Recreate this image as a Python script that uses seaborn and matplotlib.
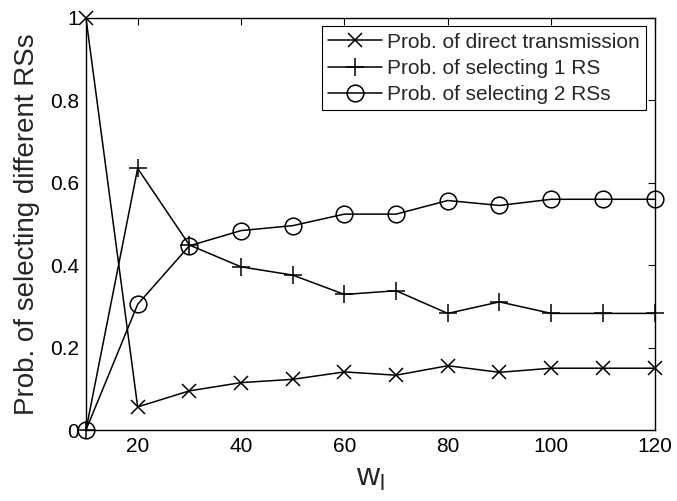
import matplotlib
matplotlib.use("Agg")
import matplotlib.pyplot as plt
import seaborn as sns
import pandas as pd

# Data
w_l = [10, 20, 30, 40, 50, 60, 70, 80, 90, 100, 110, 120]
p_direct = [1.0, 0.056, 0.095, 0.115, 0.123, 0.141, 0.133, 0.156, 0.140, 0.150, 0.150, 0.150]
p_one_rs = [0.0, 0.635, 0.449, 0.396, 0.376, 0.329, 0.338, 0.283, 0.311, 0.283, 0.283, 0.283]
p_two_rs = [0.0, 0.305, 0.447, 0.484, 0.496, 0.524, 0.524, 0.557, 0.545, 0.560, 0.560, 0.560]
series_names = ["Prob. of direct transmission", "Prob. of selecting 1 RS", "Prob. of selecting 2 RSs"]
x_ticks = [20, 40, 60, 80, 100, 120]
y_ticks = [0, 0.2, 0.4, 0.6, 0.8, 1.0]
y_tick_labels = ["0", "0.2", "0.4", "0.6", "0.8", "1"]

sns.set_style("white")
plt.rcParams["font.family"] = ["Liberation Sans", "DejaVu Sans"]
plt.rcParams["mathtext.fontset"] = "custom"
plt.rcParams["mathtext.rm"] = "Liberation Sans"

fig = plt.figure(figsize=(6.77, 5.01), dpi=100)
ax = fig.add_axes([0.127, 0.1417, 0.8398, 0.8224])

df = pd.DataFrame({"w": w_l * 3,
                   "p": p_direct + p_one_rs + p_two_rs,
                   "series": [series_names[0]] * len(w_l) + [series_names[1]] * len(w_l) + [series_names[2]] * len(w_l)})

styles = [dict(marker="x", markersize=10, mfc="black"),
          dict(marker="+", markersize=13, mfc="black"),
          dict(marker="o", markersize=12, mfc="none")]
for name, st in zip(series_names, styles):
    sub = df[df["series"] == name]
    sns.lineplot(data=sub, x="w", y="p", ax=ax, color="black", linewidth=1.1,
                 label=name, mec="black", mew=1.1, clip_on=False, zorder=3, **st)

ax.set_xlim(10, 120)
ax.set_ylim(0, 1)
ax.set_xticks(x_ticks)
ax.set_yticks(y_ticks)
ax.set_yticklabels(y_tick_labels)
ax.tick_params(direction="in", length=5, width=0.8, labelsize=15, top=True, right=True,
               colors="black", pad=5)
for s in ax.spines.values():
    s.set_visible(True)
    s.set_color("black")
    s.set_linewidth(1.0)
ax.set_xlabel(r"$\mathrm{w_l}$", fontsize=23, labelpad=5)
ax.set_ylabel("Prob. of selecting different RSs", fontsize=20, labelpad=7)

leg = ax.legend(loc="upper right", fontsize=15, frameon=True, fancybox=False,
                edgecolor="black", framealpha=1, borderpad=0.3, labelspacing=0.35,
                handlelength=2.6, handletextpad=0.25, borderaxespad=0.4)
leg.get_frame().set_linewidth(0.8)

fig.savefig("out.png", dpi=100)
